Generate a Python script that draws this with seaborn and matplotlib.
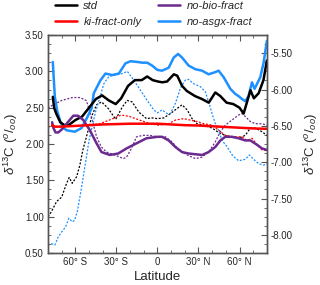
import numpy as np
import pandas as pd
import seaborn as sns
import matplotlib
matplotlib.use("Agg")
import matplotlib.pyplot as plt
from matplotlib.lines import Line2D
from matplotlib.ticker import MultipleLocator, AutoMinorLocator, FuncFormatter

# --- data ---
# solid lines, left axis
lat_std = [-76.5, -75.5, -74, -71, -68, -65, -60, -55, -50, -45, -40.5, -35.5, -30.5, -26.5, -21.5,
           -16.5, -11.5, -7.5, -3.5, 0.5, 3.5, 7, 12, 14.5, 18, 21.5, 27.5, 32.5, 37.5, 42.3, 46,
           50.5, 55.5, 60, 63, 65.5, 68, 70.5, 74, 77.5, 80]
std = [2.65, 2.50, 2.42, 2.30, 2.26, 2.26, 2.33, 2.38, 2.50, 2.62, 2.67, 2.60, 2.55, 2.63, 2.80,
       2.88, 2.88, 2.93, 2.88, 2.86, 2.85, 2.86, 2.96, 2.94, 2.80, 2.73, 2.66, 2.62, 2.57, 2.71, 2.66,
       2.57, 2.55, 2.50, 2.42, 2.58, 2.74, 2.63, 2.70, 2.88, 3.15]

lat_ki = [-77, -75, -70, -60, -50, -40, -30, -20, -10, 0, 10, 20, 30, 40, 50, 60, 70, 80]
ki = [2.26, 2.24, 2.24, 2.25, 2.26, 2.27, 2.275, 2.28, 2.28, 2.28, 2.27, 2.26, 2.255, 2.245,
      2.235, 2.225, 2.215, 2.21]

lat_bio = [-77, -76, -74.5, -72.5, -70, -66.4, -61.5, -58, -54.2, -49.4, -44.5, -40.9, -34.8, -28.7,
           -22.6, -15.3, -8, 0, 3.4, 8.2, 13.1, 18, 22.8, 27.7, 32.6, 37.4, 42.3, 46, 49.6, 54.5,
           59.3, 64.2, 67.9, 72.8, 76.4, 80]
bio = [2.30, 2.22, 2.16, 2.16, 2.20, 2.28, 2.39, 2.39, 2.33, 2.19, 2.01, 1.89, 1.85, 1.87,
       1.94, 2.01, 2.08, 2.10, 2.10, 2.05, 1.96, 1.89, 1.87, 1.86, 1.85, 1.89, 1.96, 2.05, 2.10, 2.10,
       2.08, 2.05, 2.05, 1.99, 1.94, 1.92]

lat_asgx = [-76.5, -75, -73.2, -70.8, -68.6, -66.4, -60.4, -55.5, -51.8, -48.2, -46.5, -41.6, -38, -33,
            -28.2, -23.4, -19.7, -14.8, -11.2, -7.5, -3.9, 0, 3.4, 8.2, 11.9, 15.1, 18, 22.8, 27.7,
            32.6, 37.4, 42.3, 44.7, 48.4, 53.3, 56.9, 59.3, 61.8, 64.2, 66.6, 69.1, 71, 75.2, 77.6, 80]
asgx = [3.13, 2.65, 2.45, 2.30, 2.22, 2.19, 2.17, 2.22, 2.35, 2.49, 2.70, 2.88, 2.97, 2.95,
        2.97, 3.11, 3.14, 3.13, 3.12, 3.12, 3.08, 3.02, 3.01, 3.05, 3.19, 3.24, 3.19, 3.08, 3.03,
        3.01, 2.96, 2.99, 3.01, 2.92, 2.76, 2.69, 2.66, 2.62, 2.59, 2.66, 2.85, 2.76, 2.92, 3.12, 3.42]

# dotted lines, right axis
lat_std_r = [-80, -77.5, -73.7, -70, -66.4, -64.5, -62.3, -59.1, -56.7, -54.5, -52.6, -47.7, -44.5,
             -40.8, -36, -30.5, -25.7, -22.1, -18.5, -13.6, -8, -4, 0, 4.6, 9.5, 14.4, 18, 21.7,
             25.3, 28.9, 33.8, 40, 45.5, 52, 59.3, 64.2, 67.9, 71.5, 76.4, 80]
std_r = [-7.75, -7.68, -7.54, -7.48, -7.29, -7.21, -7.29, -7.20, -7.04, -6.83, -6.70, -6.35, -6.21,
         -6.17, -6.26, -6.41, -6.24, -6.15, -6.17, -6.31, -6.40, -6.39, -6.40, -6.39, -6.33, -6.26,
         -6.21, -6.28, -6.40, -6.47, -6.49, -6.53, -6.60, -6.65, -6.67, -6.63, -6.53, -6.53, -6.58, -6.63]

lat_ki_r = [-80, -70, -60, -50, -42, -32.5, -26.5, -20.5, -13, -5.5, 0.5, 8.2, 13.1, 19.1, 24, 29,
            33.8, 40, 44.7, 49.6, 55.7, 61.8, 65.5, 69.1, 72.8, 76.4, 80]
ki_r = [-6.51, -6.51, -6.50, -6.49, -6.47, -6.40, -6.35, -6.37, -6.42, -6.47, -6.49, -6.47, -6.42,
        -6.40, -6.42, -6.44, -6.47, -6.49, -6.56, -6.63, -6.65, -6.65, -6.70, -6.67, -6.76, -6.83, -6.84]

lat_bio_r = [-80, -76.4, -70, -62.3, -56.7, -52, -49.5, -47, -44.5, -41, -37.2, -31.2, -25, -22.6,
             -19, -15.3, -10.4, -5.5, 0, 5.8, 10.7, 15.6, 21.7, 27.7, 32.6, 37.4, 42.3, 46, 49.6,
             54.5, 59.3, 61.8, 64.2, 67.9, 71.5, 76.4, 80]
bio_r = [-6.26, -6.21, -6.15, -6.11, -6.11, -6.15, -6.30, -6.47, -6.65, -6.79, -6.86, -6.90, -6.95,
         -6.93, -6.81, -6.65, -6.63, -6.63, -6.65, -6.65, -6.72, -6.83, -6.90, -6.95, -6.93, -6.86,
         -6.72, -6.58, -6.49, -6.42, -6.35, -6.33, -6.37, -6.44, -6.47, -6.47, -6.49]

lat_asgx_r = [-80, -77.5, -75, -72.6, -70, -67.2, -64.7, -62.3, -60.6, -58.6, -56.7, -55, -52.6, -50,
              -45.3, -41.6, -39.2, -35.5, -30.7, -25.8, -22, -17.3, -12.4, -7.5, -2.7, 0, 3.4, 7, 9.5,
              13.1, 16.8, 20.4, 22.8, 26.5, 31.4, 35, 37.4, 39.9, 42.3, 44.7, 47.2, 50.6, 55, 59.3,
              64.2, 67.2, 70.3, 74, 77.6, 80]
asgx_r = [-8.14, -8.12, -8.14, -8.03, -7.96, -7.89, -7.77, -7.82, -7.80, -7.68, -7.48, -7.29, -7.01,
          -6.70, -6.31, -6.08, -5.92, -5.82, -5.80, -5.78, -5.75, -5.87, -6.01, -6.15, -6.28, -6.32,
          -6.28, -6.33, -6.33, -6.19, -5.98, -5.87, -5.86, -5.92, -5.96, -6.03, -6.17, -6.33, -6.47,
          -6.56, -6.70, -6.78, -6.91, -6.98, -6.96, -6.90, -6.96, -7.02, -7.04, -7.02]

names = ["std", "ki-fract-only", "no-bio-fract", "no-asgx-fract"]
colors = ["black", "#ff0000", "#6b2a8f", "#1e90ff"]

# --- style ---
sns.set_style("ticks")
plt.rcParams['font.family'] = ['Liberation Sans', 'DejaVu Sans']
plt.rcParams['mathtext.fontset'] = 'custom'
plt.rcParams['mathtext.rm'] = 'Liberation Sans'
plt.rcParams['mathtext.it'] = 'Liberation Sans:italic'

fig = plt.figure(figsize=(3.2, 2.85), dpi=100)
ax = fig.add_axes([0.15, 0.112, 0.684, 0.765])
ax2 = ax.twinx()

dot = (0, (1.6, 1.3))
right_sets = [(lat_std_r, std_r), (lat_ki_r, ki_r), (lat_bio_r, bio_r), (lat_asgx_r, asgx_r)]
for (x, y), c in zip(right_sets, colors):
    sns.lineplot(x=x, y=y, ax=ax2, color=c, lw=0.9, linestyle=dot, sort=False)

left_sets = [(lat_asgx, asgx, colors[3]), (lat_std, std, colors[0]),
             (lat_bio, bio, colors[2]), (lat_ki, ki, colors[1])]
for x, y, c in left_sets:
    sns.lineplot(x=x, y=y, ax=ax, color=c, lw=1.8, sort=False)

# solid lines drawn above the dotted ones
ax.set_zorder(ax2.get_zorder() + 1)
ax.patch.set_visible(False)

ax.set_xlim(-80, 80)
ax.set_ylim(0.5, 3.5)
ax2.set_ylim(-8.25, -5.25)

def lat_fmt(v, pos):
    if abs(v) < 1e-6:
        return "0"
    return f"{abs(int(v))}° {'S' if v < 0 else 'N'}"

ax.xaxis.set_major_locator(MultipleLocator(30))
ax.xaxis.set_minor_locator(MultipleLocator(10))
ax.xaxis.set_major_formatter(FuncFormatter(lat_fmt))
ax.yaxis.set_major_locator(MultipleLocator(0.5))
ax.yaxis.set_minor_locator(AutoMinorLocator(4))
ax.yaxis.set_major_formatter(FuncFormatter(lambda v, p: f"{v:.2f}"))
ax2.yaxis.set_major_locator(MultipleLocator(0.5))
ax2.yaxis.set_minor_locator(AutoMinorLocator(4))
ax2.yaxis.set_major_formatter(FuncFormatter(lambda v, p: f"{v:.2f}"))

for a in (ax, ax2):
    for s in a.spines.values():
        s.set_color("#555555")
        s.set_linewidth(1.0)
ax.tick_params(axis='both', which='both', direction='in', top=True, right=False,
               labelsize=7, color="#555555", pad=3)
ax.tick_params(which='major', length=4, width=0.8)
ax.tick_params(which='minor', length=2.5, width=0.6)
ax2.tick_params(axis='y', which='both', direction='in', labelsize=7, color="#555555", pad=3)
ax2.tick_params(which='major', length=4, width=0.8)
ax2.tick_params(which='minor', length=2.5, width=0.6)

ylab = r'$\delta^{13}$C ($^{o}$/$_{oo}$)'
ax.set_ylabel(ylab, fontsize=9.5, labelpad=4)
ax2.set_ylabel(ylab, fontsize=9.5, rotation=90, labelpad=6)
ax.set_xlabel("Latitude", fontsize=9.5, labelpad=3)

handles = [Line2D([], [], color=c, lw=1.8) for c in colors]
fig.legend(handles, names, ncol=2, loc='upper left', bbox_to_anchor=(55 / 320, 1 - 1 / 285),
           frameon=False, prop={'style': 'italic', 'size': 8}, handlelength=2.0,
           handletextpad=0.55, columnspacing=1.5, labelspacing=0.5, borderpad=0,
           borderaxespad=0)

fig.savefig("out.png", dpi=100)
